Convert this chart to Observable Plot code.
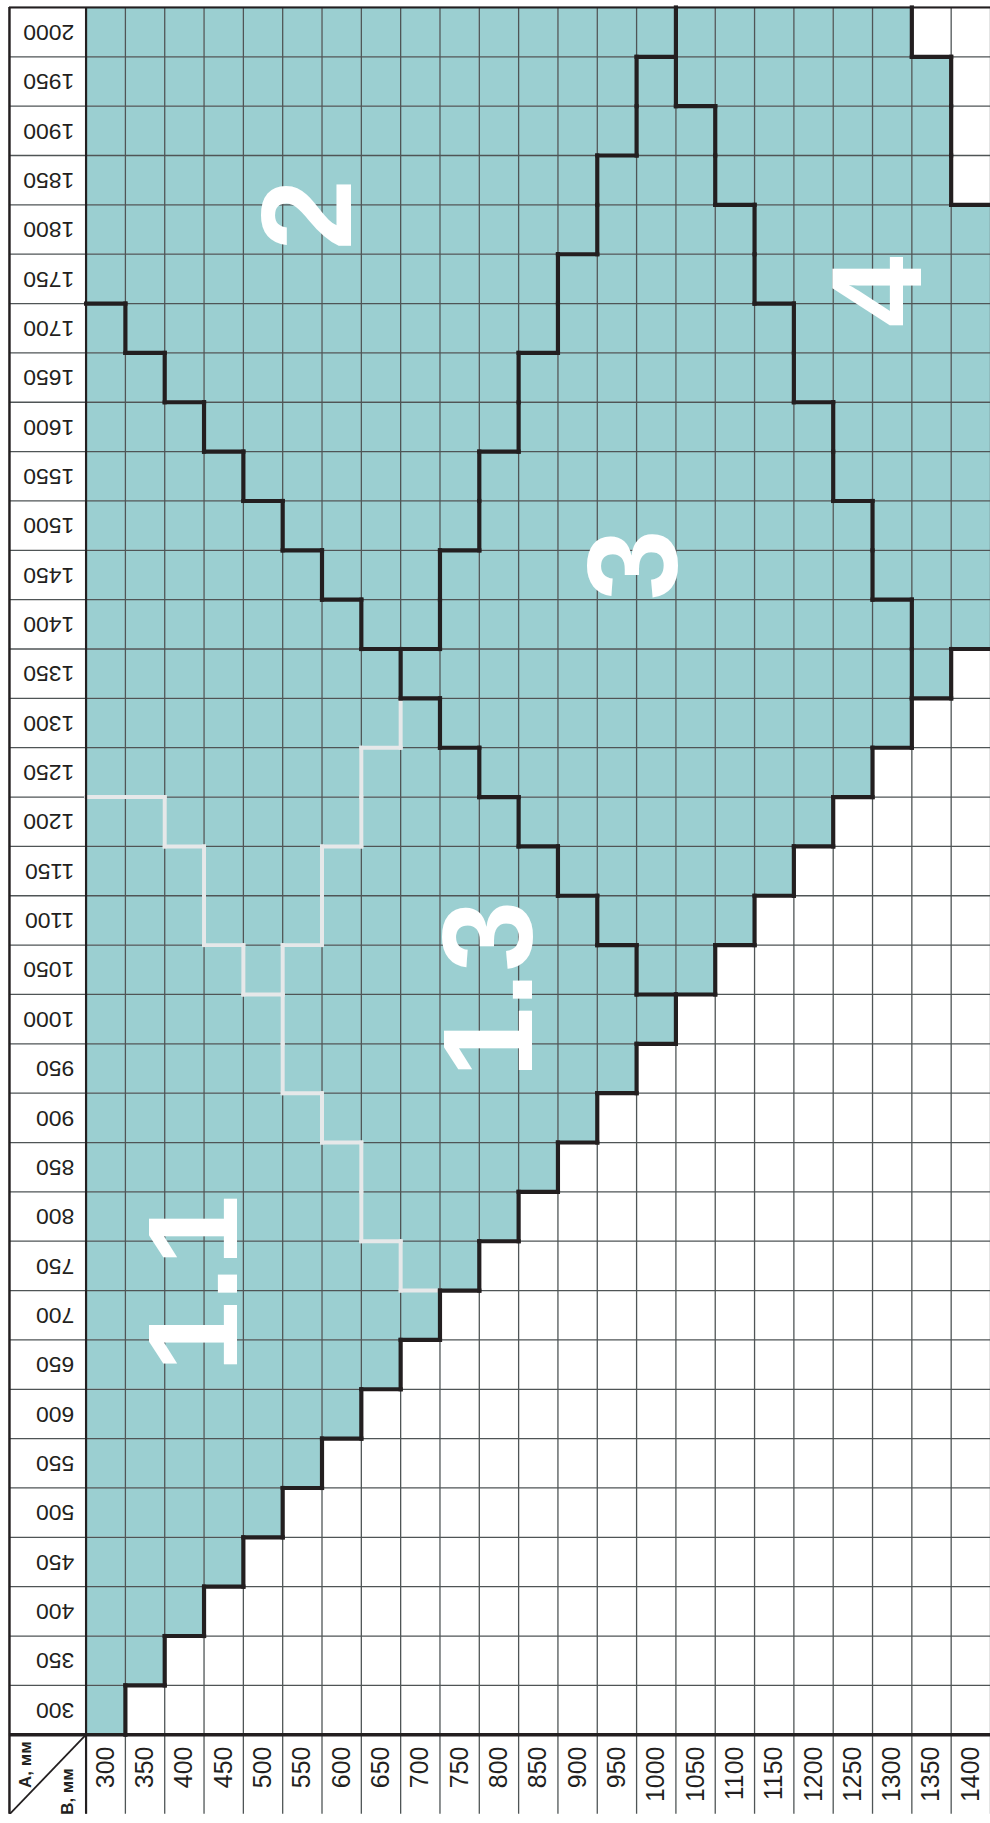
<!DOCTYPE html>
<html><head><meta charset="utf-8">
<script src="https://cdn.jsdelivr.net/npm/d3@7"></script>
<script src="https://cdn.jsdelivr.net/npm/@observablehq/plot@0.6"></script>
<style>
html,body{margin:0;padding:0;background:#fff;overflow:hidden;}
#chart svg{display:block;}
</style></head><body><div id="chart"></div>
<script>
// Column values A (mm) and row values B (mm)
const colsA = [300,350,400,450,500,550,600,650,700,750,800,850,900,950,1000,1050,1100,1150,1200,1250,1300,1350,1400];
const rowsB = [300,350,400,450,500,550,600,650,700,750,800,850,900,950,1000,1050,1100,1150,1200,1250,1300,1350,1400,1450,1500,1550,1600,1650,1700,1750,1800,1850,1900,1950,2000];
// For each row B: the largest A that still belongs to each zone (zones are stacked left to right)
const max11 = [300,350,400,450,500,550,600,650,700,650,600,600,550,500,500,450,400,400,350,0,0,0,0,0,0,0,0,0,0,0,0,0,0,0,0];
const max12 = [300,350,400,450,500,550,600,650,700,650,600,600,550,500,500,500,550,550,600,600,650,650,600,550,500,450,400,350,300,0,0,0,0,0,0];
const max13 = [300,350,400,450,500,550,600,650,700,750,800,850,900,950,1000,950,900,850,800,750,700,650,600,550,500,450,400,350,300,0,0,0,0,0,0];
const max2  = [300,350,400,450,500,550,600,650,700,750,800,850,900,950,1000,950,900,850,800,750,700,650,700,700,750,750,800,800,850,850,900,900,950,950,1000];
const max3  = [300,350,400,450,500,550,600,650,700,750,800,850,900,950,1000,1050,1100,1150,1200,1250,1300,1300,1300,1250,1250,1200,1200,1150,1150,1100,1100,1050,1050,1000,1000];
const max4  = [300,350,400,450,500,550,600,650,700,750,800,850,900,950,1000,1050,1100,1150,1200,1250,1300,1350,1400,1400,1400,1400,1400,1400,1400,1400,1400,1350,1350,1350,1300];
// Zone labels and their anchor (A, B)
const zoneNames = ["1.1","1.3","2","3","4"];
const zoneA = [415, 790, 560, 975, 1285];
const zoneB = [732, 1030, 1815, 1460, 1737];
const labelAxisA = "А, мм";
const labelAxisB = "В, мм";

// ---- build tables ----
const step = 50, half = step / 2;
const zoneOf = (i, A) =>
  A <= max11[i] ? "1.1" : A <= max12[i] ? "1.2" : A <= max13[i] ? "1.3" :
  A <= max2[i] ? "2" : A <= max3[i] ? "3" : A <= max4[i] ? "4" : null;
const cells = [];
const zmap = new Map();
rowsB.forEach((B, i) => colsA.forEach(A => {
  const z = zoneOf(i, A);
  cells.push({A, B, zone: z});
  zmap.set(A + "," + B, z);
}));
const edges = [];
for (const c of cells) {
  const nb = [[c.A + step, c.B, "v"], [c.A, c.B + step, "h"]];
  for (const [A2, B2, dir] of nb) {
    if (!zmap.has(A2 + "," + B2)) continue;
    const z2 = zmap.get(A2 + "," + B2);
    if (z2 === c.zone) continue;
    const sub = c.zone && z2 && c.zone.startsWith("1.") && z2.startsWith("1.");
    const e = dir === "v"
      ? {x1: c.A + half, x2: c.A + half, y1: c.B - half, y2: c.B + half}
      : {x1: c.A - half, x2: c.A + half, y1: c.B + half, y2: c.B + half};
    e.kind = sub ? "sub" : "main";
    edges.push(e);
  }
}
const zoneLabels = zoneNames.map((t, k) => ({t, A: zoneA[k], B: zoneB[k]}));
const colEdges = [...colsA.map(a => a - half), colsA[colsA.length - 1] + half];
const rowEdges = [...rowsB.map(b => b - half), rowsB[rowsB.length - 1] + half];

// ---- layout ----
const W = 995, H = 1823, mL = 86, mR = 0, mT = 7, mB = 80;
const xd = [colsA[0] - half, colsA[colsA.length - 1] + half];
const yd = [rowsB[0] - half, rowsB[rowsB.length - 1] + half];
const ux = (xd[1] - xd[0]) / (W - mL - mR);
const uy = (yd[1] - yd[0]) / (H - mT - mB);
const labelLeft = xd[0] - (mL - 9) * ux;
const headerBottom = yd[0] - mB * uy;

const teal = "#9bcfd1", ink = "#231f20", grid = "#4f5556", subLine = "#e6e8e9";
const font = "'Liberation Sans', Arial, Helvetica, sans-serif";

const chart = Plot.plot({
  width: W, height: H,
  marginLeft: mL, marginRight: mR, marginTop: mT, marginBottom: mB,
  x: {type: "linear", domain: xd, axis: null},
  y: {type: "linear", domain: yd, axis: null},
  style: {fontFamily: font, background: "white"},
  marks: [
    Plot.rect(cells, {x1: d => d.A - half, x2: d => d.A + half, y1: d => d.B - half, y2: d => d.B + half,
      fill: d => d.zone ? teal : "white"}),
    Plot.ruleY(rowEdges, {y: d => d, x1: labelLeft, x2: xd[1], stroke: grid, strokeWidth: 1.3}),
    Plot.ruleX(colEdges, {x: d => d, y1: headerBottom, y2: yd[1], stroke: grid, strokeWidth: 1.3}),
    Plot.link(edges.filter(e => e.kind === "sub"), {x1: "x1", y1: "y1", x2: "x2", y2: "y2",
      stroke: subLine, strokeWidth: 4, strokeLinecap: "square"}),
    Plot.link(edges.filter(e => e.kind === "main"), {x1: "x1", y1: "y1", x2: "x2", y2: "y2",
      stroke: ink, strokeWidth: 4.2, strokeLinecap: "square"}),
    // table frame
    Plot.ruleX([labelLeft], {x: d => d, y1: headerBottom, y2: yd[1], stroke: ink, strokeWidth: 2.5}),
    Plot.ruleX([xd[0]], {x: d => d, y1: headerBottom, y2: yd[1], stroke: ink, strokeWidth: 2.2}),
    Plot.ruleY([yd[1]], {y: d => d, x1: labelLeft, x2: xd[1], stroke: ink, strokeWidth: 2}),
    Plot.ruleY([yd[0]], {y: d => d, x1: labelLeft, x2: xd[1], stroke: ink, strokeWidth: 3.5}),
    Plot.link([0], {x1: labelLeft, y1: headerBottom, x2: xd[0], y2: yd[0], stroke: ink, strokeWidth: 1.8}),
    // row labels (B)
    Plot.text(rowsB, {y: d => d, text: d => String(d), frameAnchor: "left", dx: -12,
      rotate: 180, textAnchor: "start", lineAnchor: "middle", fontSize: 23, fill: ink}),
    // column labels (A)
    Plot.text(colsA, {x: d => d, text: d => String(d), frameAnchor: "bottom", dy: 12,
      rotate: -90, textAnchor: "end", lineAnchor: "middle", fontSize: 25, fill: ink,
      fontFamily: "'Liberation Sans Narrow', 'Arial Narrow', " + font}),
    // corner header texts
    Plot.text([labelAxisA], {text: d => d, frameAnchor: "bottom-left", dx: -61, dy: 30,
      rotate: -90, textAnchor: "middle", lineAnchor: "middle", fontSize: 17, fontWeight: "bold", fill: ink}),
    Plot.text([labelAxisB], {text: d => d, frameAnchor: "bottom-left", dx: -19, dy: 57,
      rotate: -90, textAnchor: "middle", lineAnchor: "middle", fontSize: 17, fontWeight: "bold", fill: ink}),
    // zone labels
    Plot.text(zoneLabels, {x: "A", y: "B", text: "t", rotate: -90, textAnchor: "middle", lineAnchor: "middle",
      fontSize: 128, fontWeight: "bold", fill: "white"})
  ]
});
document.getElementById("chart").appendChild(chart);
</script>
</body></html>
